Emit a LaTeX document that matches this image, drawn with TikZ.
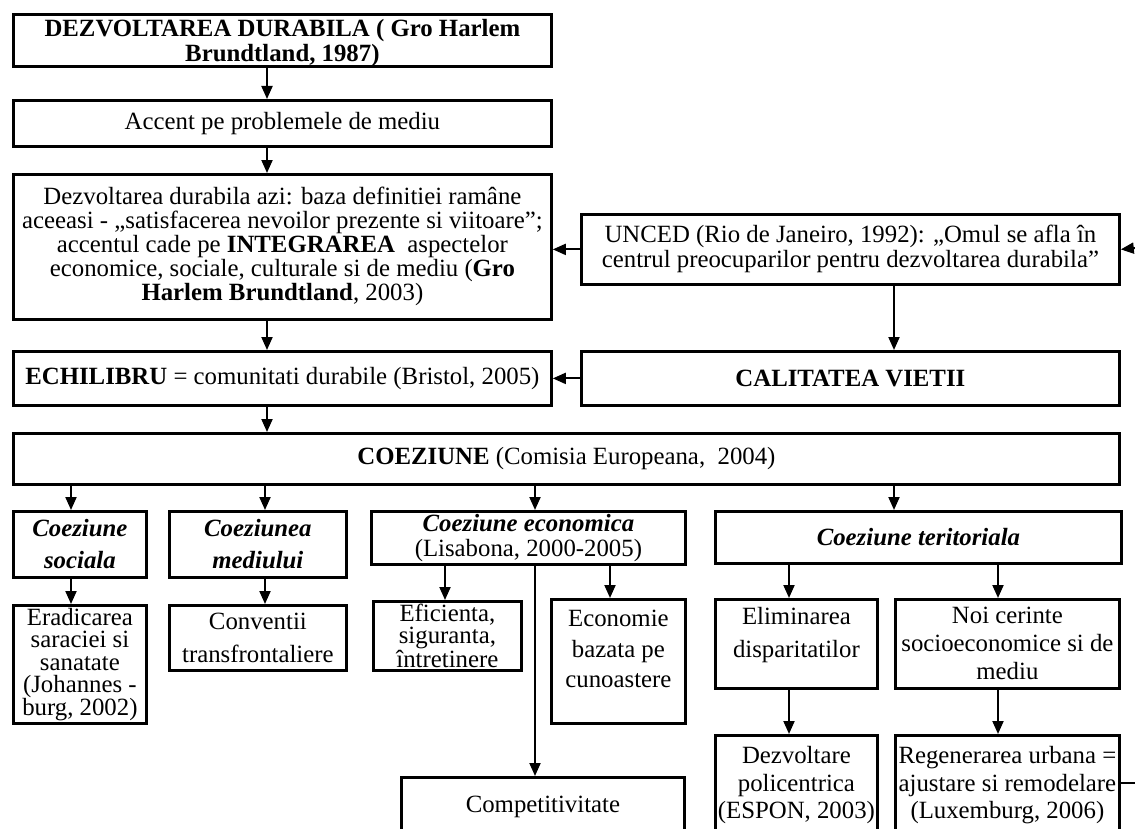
\documentclass[tikz,border=0pt]{standalone}
\usepackage{fontspec}
\setmainfont{Liberation Serif}
\usetikzlibrary{arrows.meta}

\tikzset{
  tbox/.style 2 args={draw, line width=1.4pt, anchor=north west, align=center,
    inner sep=0.5pt, minimum width=#1*0.5pt, minimum height=#2*0.5pt,
    font=\fontsize{12.4}{12}\selectfont},
  arr/.style={-{Triangle[length=6.5pt,width=5.5pt]}, line width=1pt},
}

\begin{document}
\begin{tikzpicture}[x=0.5pt, y=-0.5pt]
	\useasboundingbox (0,0) rectangle (1135,829);
	\clip (0,0) rectangle (1135,829);

	% left column
	\node[tbox={538}{52}, font=\bfseries\fontsize{12.4}{9.5}\selectfont, text depth=-4pt] (title) at (12,13)
		{DEZVOLTAREA DURABILA ( Gro Harlem\\ Brundtland, 1987)};
	\node[tbox={538}{46}] (accent) at (12,99) {Accent pe problemele de mediu};
	\node[tbox={538}{145}] (today) at (12,173)
		{Dezvoltarea durabila azi: baza definitiei ramâne\\
		 aceeasi - „satisfacerea nevoilor prezente si viitoare”;\\
		 accentul cade pe \textbf{INTEGRAREA}\ \ aspectelor\\
		 economice, sociale, culturale si de mediu (\textbf{Gro}\\
		 \textbf{Harlem Brundtland}, 2003)};
	\node[tbox={538}{54}] (echil) at (12,350)
		{\textbf{ECHILIBRU} = comunitati durabile (Bristol, 2005)};

	% right column
	\node[tbox={538}{70}, font=\fontsize{12.4}{12.5}\selectfont] (unced) at (580,213)
		{UNCED (Rio de Janeiro, 1992): „Omul se afla în\\
		 centrul preocuparilor pentru dezvoltarea durabila”};
	\node[tbox={538}{54}, font=\bfseries\fontsize{12.4}{12}\selectfont] (calit) at (580,350) {CALITATEA VIETII};

	% cohesion
	\node[tbox={1106}{51}] (coez) at (12,432) {\textbf{COEZIUNE} (Comisia Europeana,\ \ 2004)};

	% second row
	\node[tbox={133}{66}, font=\bfseries\itshape\fontsize{12.4}{16}\selectfont] (social) at (12,510) {Coeziune\\sociala};
	\node[tbox={177}{66}, font=\bfseries\itshape\fontsize{12.4}{16}\selectfont] (mediu) at (168,510) {Coeziunea\\mediului};
	\node[tbox={314}{53}, font=\fontsize{12.4}{12.5}\selectfont] (econ) at (370,510)
		{\textbf{\textit{Coeziune economica}}\\(Lisabona, 2000-2005)};
	\node[tbox={406}{52}, font=\bfseries\itshape\fontsize{12.4}{12}\selectfont] (terit) at (714,510) {Coeziune teritoriala};

	% third row
	\node[tbox={133}{118}, font=\fontsize{12.4}{11.25}\selectfont] (eradic) at (12,604)
		{Eradicarea\\saraciei si\\sanatate\\(Johannes -\\burg, 2002)};
	\node[tbox={177}{65}, font=\fontsize{12.4}{16.5}\selectfont] (conv) at (168,604) {Conventii\\transfrontaliere};
	\node[tbox={148}{69}, font=\fontsize{12.4}{11}\selectfont] (efic) at (372,600) {Eficienta,\\siguranta,\\întretinere};
	\node[tbox={134}{124}, font=\fontsize{12.4}{15.25}\selectfont, text depth=12.5pt] (econom) at (550,598)
		{Economie\\bazata pe\\cunoastere};
	\node[tbox={162}{89}, font=\fontsize{12.4}{16.5}\selectfont, text depth=11.6pt] (elim) at (714,598)
		{Eliminarea\\disparitatilor};
	\node[tbox={224}{89}, font=\fontsize{12.4}{14}\selectfont] (noi) at (894,598)
		{Noi cerinte\\socioeconomice si de\\mediu};

	% bottom row
	\node[tbox={283}{60}] (compet) at (400,776) {Competitivitate};
	\node[tbox={162}{100}, font=\fontsize{12.4}{13.75}\selectfont] (dezv) at (714,734)
		{Dezvoltare\\policentrica\\(ESPON, 2003)};
	\node[tbox={224}{100}, font=\fontsize{12.4}{13.75}\selectfont] (regen) at (894,734)
		{Regenerarea urbana =\\ajustare si remodelare\\(Luxemburg, 2006)};

	% arrow columns
	\coordinate (ca) at (267,0);
	\coordinate (cb) at (894,0);
	\coordinate (c1) at (71,0);
	\coordinate (c2) at (265,0);
	\coordinate (c3) at (535,0);
	\coordinate (c5) at (445,0);
	\coordinate (c6) at (610,0);
	\coordinate (c7) at (789,0);
	\coordinate (c8) at (998,0);
	\coordinate (inR) at (1135,248);
	\coordinate (outR) at (1135,783);

	% draw vertical arrows
	\foreach \a/\b/\c in {title/accent/ca, accent/today/ca, today/echil/ca, echil/coez/ca,
		unced/calit/cb, coez/social/c1, coez/mediu/c2, coez/econ/c3, coez/terit/cb,
		social/eradic/c1, mediu/conv/c2, econ/efic/c5, econ/econom/c6, econ/compet/c3,
		terit/elim/c7, terit/noi/c8, elim/dezv/c7, noi/regen/c8}
	\draw[arr] (\a.south -| \c) -- (\b.north -| \c);

	% draw horizontal arrows
	\draw[arr] (unced.west) -- (today.east |- unced.west);
	\draw[arr] (inR) -- (unced.east);
	\draw[arr] (calit.west) -- (echil.east);
	\draw[line width=1pt] (regen.east |- outR) -- (outR);
\end{tikzpicture}
\end{document}
